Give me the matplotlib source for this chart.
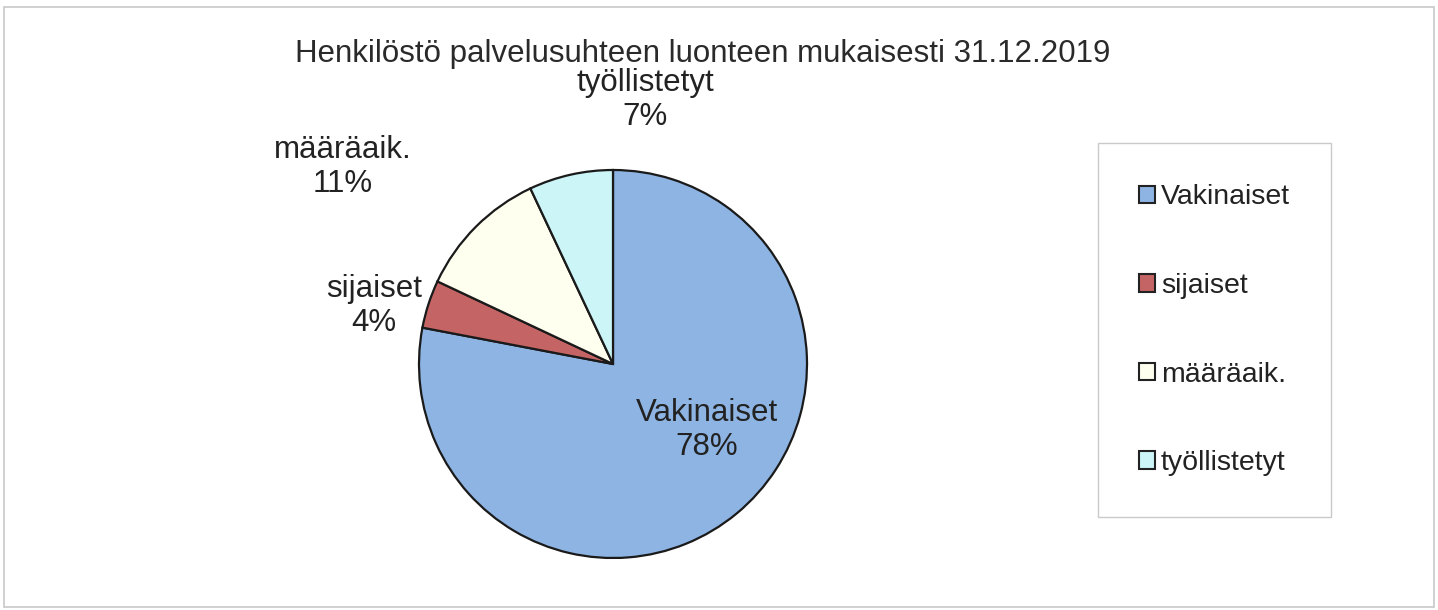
import matplotlib.pyplot as plt
from matplotlib.patches import Rectangle

plt.rcParams['font.family'] = ['Liberation Sans', 'DejaVu Sans']

# Data
categories = ['Vakinaiset', 'sijaiset', 'määräaik.', 'työllistetyt']
shares = [78, 4, 11, 7]
colors = ['#8DB4E3', '#C46464', '#FFFFF0', '#CCF5F8']
title = 'Henkilöstö palvelusuhteen luonteen mukaisesti 31.12.2019'

# label positions in pie units (radius = 1), as Excel placed them
label_pos = [(0.485, -0.34), (-1.232, 0.30), (-1.392, 1.015), (0.165, 1.36)]

W, H = 1438, 610
fig = plt.figure(figsize=(W / 100, H / 100), dpi=100)
fig.patch.set_facecolor('white')

# faint outer chart frame
fig.add_artist(Rectangle((4 / W, 3 / H), 1430 / W, 600 / H, transform=fig.transFigure,
                         fill=False, edgecolor='#C8C8C8', lw=1.2))

# pie axes: centre (613, 364) px, radius 194 px
cx, cy, r = 613, 364, 194
ax = fig.add_axes([(cx - r) / W, (H - cy - r) / H, 2 * r / W, 2 * r / H])
wedges, _ = ax.pie(shares, colors=colors, startangle=90, counterclock=False,
                   wedgeprops=dict(edgecolor='#1a1a1a', linewidth=1.6))
ax.set_xlim(-1, 1)
ax.set_ylim(-1, 1)
ax.axis('off')

for name, val, (x, y) in zip(categories, shares, label_pos):
    ax.text(x, y, f'{name}\n{val}%', ha='center', va='center', fontsize=22.5,
            color='#222222', linespacing=1.2)

fig.text(703 / W, 1 - 62 / H, title, ha='center', va='baseline', fontsize=22.5,
         color='#2a2a2a')

leg = fig.legend(wedges, categories, loc='upper left',
                 bbox_to_anchor=(1098 / W, 1 - 143 / H), borderaxespad=0,
                 fontsize=20.5, frameon=True, fancybox=False,
                 handlelength=0.56, handleheight=0.56, handletextpad=0.2,
                 labelspacing=2.2, borderpad=1.45)
leg.get_frame().set_edgecolor('#BDBDBD')
leg.get_frame().set_linewidth(1.0)
for t in leg.get_texts():
    t.set_color('#222222')
for h in leg.legend_handles:
    h.set_edgecolor('#222222')
    h.set_linewidth(1.5)

fig.savefig('out.png', dpi=100)
